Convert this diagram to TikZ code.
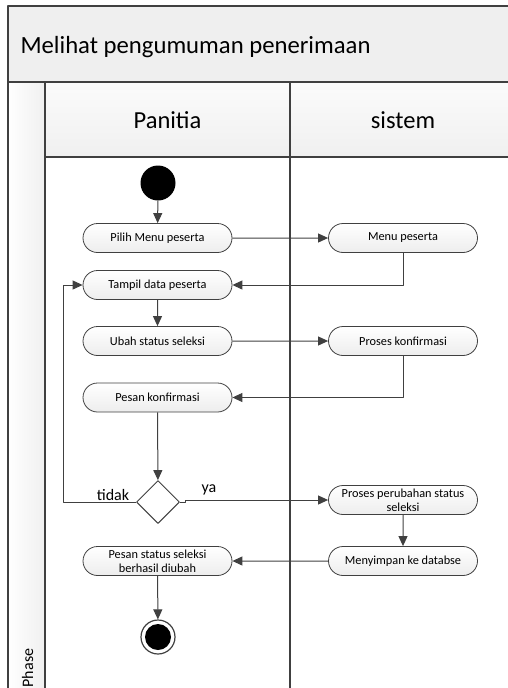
\documentclass[tikz,border=0pt]{standalone}
\usepackage{fontspec}
\setmainfont{Carlito}
\usetikzlibrary{shapes.misc,shapes.geometric,arrows.meta}
\definecolor{lineGray}{HTML}{404040}
\definecolor{headGray}{HTML}{EFEFEF}
\begin{document}
\begin{tikzpicture}[
  x=1pt, y=-1pt,
  line join=round,
  frame/.style = {draw=lineGray, line width=1.3pt},
  activity/.style = {rounded rectangle, draw=lineGray, line width=0.8pt,
    top color=white, bottom color=gray!14,
    minimum width=149pt, minimum height=29pt, inner sep=0pt,
    align=center, font=\fontsize{12.3}{14}\selectfont},
  decision/.style = {diamond, draw=lineGray, line width=1pt, fill=white,
    minimum width=43pt, minimum height=43pt, inner sep=0pt},
  flow/.style = {draw=lineGray, line width=1pt,
    -{Triangle[length=10pt,width=9pt]}},
  guard/.style = {font=\fontsize{16}{18}\selectfont}]
  \useasboundingbox (0,0) rectangle (508,688);
  % swimlane frame
  \fill[headGray] (8,6) rectangle (516,82);
  \shade[left color=white, right color=gray!12] (8,82) rectangle (45,700);
  \shade[top color=white!97!gray, bottom color=gray!12] (45,82) rectangle (516,157);
  \draw[frame] (516,6) -- (8,6) -- (8,700);
  \draw[frame] (8,82) -- (516,82);
  \draw[frame] (45,82) -- (45,700);
  \draw[frame] (45,157) -- (516,157);
  \draw[frame] (290,82) -- (290,700);
  \node[anchor=base west, font=\fontsize{24.7}{28}\selectfont] (title) at (17,53) {Melihat pengumuman penerimaan};
  \node[anchor=base, font=\fontsize{24.5}{28}\selectfont] (panitia) at (167.5,128) {Panitia};
  \node[anchor=base, font=\fontsize{24.5}{28}\selectfont] (sistem) at (403,128) {sistem};
  \node[rotate=90, anchor=base, font=\fontsize{16}{18}\selectfont] (phase) at (33,668) {Phase};
  % activities
  \node[circle, fill=black, minimum size=35pt, inner sep=0pt] (start) at (158,183) {};
  \node[activity] (pilih) at (157.5,238) {Pilih Menu peserta};
  \node[activity] (menu) at (403,238) {Menu peserta};
  \node[activity] (tampil) at (157.5,285) {Tampil data peserta};
  \node[activity] (ubah) at (157.5,341) {Ubah status seleksi};
  \node[activity] (konfirm) at (403,341) {Proses konfirmasi};
  \node[activity] (pesan) at (157.5,397.5) {Pesan konfirmasi};
  \node[decision] (dec) at (158,502) {};
  \node[activity] (ubahst) at (403,500) {Proses perubahan status\\seleksi};
  \node[activity] (simpan) at (403,561) {Menyimpan ke databse};
  \node[activity] (berhasil) at (157.5,561) {Pesan status seleksi\\berhasil diubah};
  \node[circle, draw=lineGray, line width=1.2pt, fill=white, minimum size=34pt, inner sep=0pt,
    path picture={\fill[black] (path picture bounding box.center) circle (13pt);}] (stop) at (158,637) {};
  \coordinate (loopx) at (63,0);
  % flows
  \draw[flow] (start) -- (pilih);
  \draw[flow] (pilih) -- (menu);
  \draw[flow] (menu.south) |- (tampil.east);
  \draw[flow] (tampil) -- (ubah);
  \draw[flow] (ubah) -- (konfirm);
  \draw[flow] (konfirm.south) |- (pesan.east);
  \draw[flow] (pesan) -- (dec);
  \draw[flow] (dec.west) -| (loopx |- tampil.west) -- (tampil.west);
  \draw[flow] (dec.east) -- ++(5,0) |- (ubahst.west);
  \draw[flow] (ubahst) -- (simpan);
  \draw[flow] (simpan) -- (berhasil);
  \draw[flow] (berhasil) -- (stop);
  \node[guard] (tidak) at (113,495) {tidak};
  \node[guard] (ya) at (209,490) {ya};
\end{tikzpicture}
\end{document}
